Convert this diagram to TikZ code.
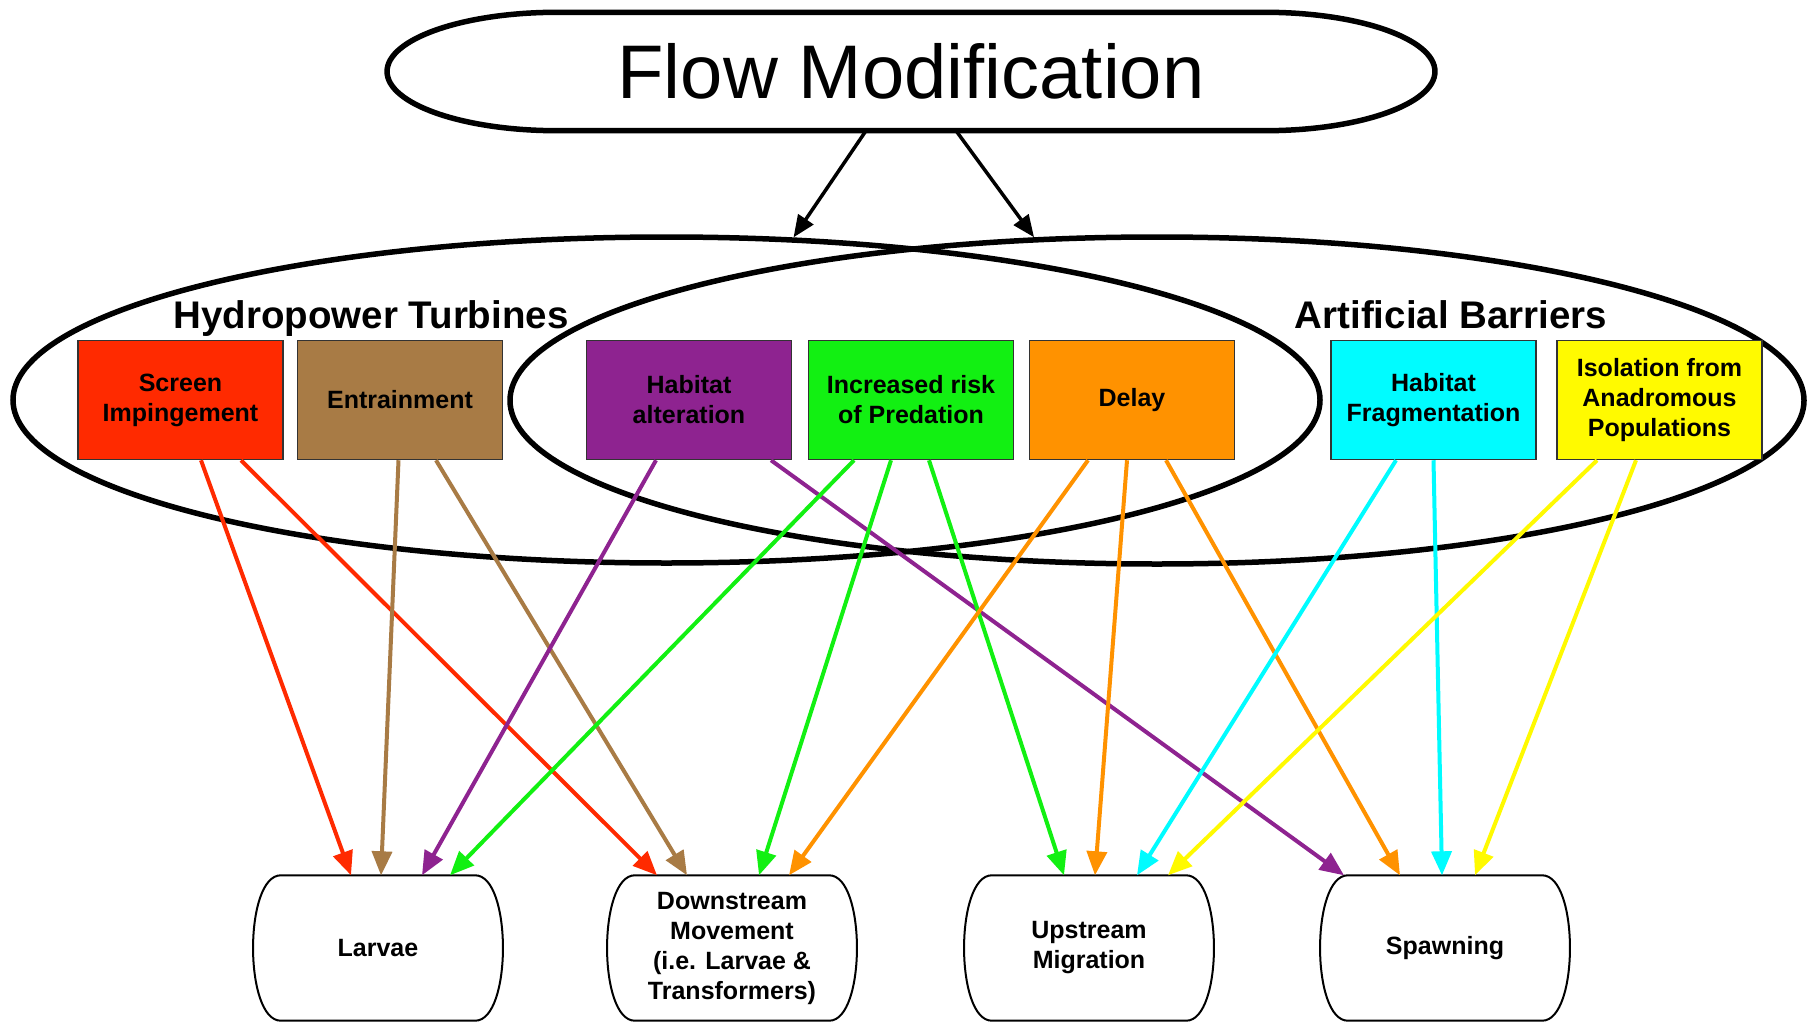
\documentclass[tikz,border=0pt]{standalone}
\usepackage{fontspec}
\setmainfont{Liberation Sans}
\usetikzlibrary{arrows.meta,shapes.geometric}
\definecolor{cred}{HTML}{FF2A00}
\definecolor{cbrown}{HTML}{A87B45}
\definecolor{cpurple}{HTML}{8E2390}
\definecolor{cgreen}{HTML}{12F012}
\definecolor{corange}{HTML}{FF9200}
\definecolor{ccyan}{HTML}{00FCFF}
\definecolor{cyellow}{HTML}{FFFA00}
\begin{document}
\begin{tikzpicture}[x=1pt,y=-1pt,
  bigell/.style={ellipse,draw=black,line width=5.5pt,inner sep=0pt},
  grp/.style={font=\fontsize{38.5}{44}\selectfont\bfseries,inner sep=0pt},
  box/.style={draw=black!80,line width=1.5pt,minimum width=205pt,minimum height=119pt,inner sep=0pt,align=center,font=\fontsize{25}{30}\selectfont\bfseries,text=black},
  outcome/.style={minimum width=250pt,minimum height=145pt,inner sep=0pt,align=center,font=\fontsize{25}{30}\selectfont\bfseries},
  lnk/.style={line width=4pt,-{Triangle[length=24pt,width=20pt]}},
  topar/.style={line width=3.5pt,-{Triangle[length=22pt,width=18pt]}}
]
\fill[white] (0,0) rectangle (1809,1022);
\useasboundingbox (0,0) rectangle (1809,1022);

% Flow Modification
\node[minimum width=1047.5pt,minimum height=118pt,inner sep=0pt,font=\fontsize{76}{90}\selectfont] (fm) at (911,71.5) {Flow Modification};
\draw[line width=5.5pt] ([xshift=170pt]fm.north west) -- ([xshift=-170pt]fm.north east)
  .. controls ([xshift=-76pt]fm.north east) and ([yshift=32.6pt]fm.east) .. (fm.east)
  .. controls ([yshift=-32.6pt]fm.east) and ([xshift=-76pt]fm.south east) .. ([xshift=-170pt]fm.south east)
  -- ([xshift=170pt]fm.south west)
  .. controls ([xshift=76pt]fm.south west) and ([yshift=-32.6pt]fm.west) .. (fm.west)
  .. controls ([yshift=32.6pt]fm.west) and ([xshift=76pt]fm.north west) .. cycle;

% group ellipses
\node[bigell,minimum width=1307pt,minimum height=326pt] (ht) at (666.5,400) {};
\node[bigell,minimum width=1294pt,minimum height=327pt] (ab) at (1157,400.5) {};
\node[grp,anchor=base] (htl) at (371,328) {Hydropower Turbines};
\node[grp,anchor=base] (abl) at (1451,328) {Artificial Barriers};

\draw[topar] ([xshift=-45pt]fm.south) -- (ht.52.5);
\draw[topar] ([xshift=45pt]fm.south) -- (ab.127);

% impact boxes
\node[box,fill=cred] (scr) at (180.5,400) {Screen\\Impingement};
\node[box,fill=cbrown] (ent) at (400,400) {Entrainment};
\node[box,fill=cpurple] (hab) at (689,400) {Habitat\\alteration};
\node[box,fill=cgreen] (pred) at (911,400) {Increased risk\\of Predation};
\node[box,fill=corange] (del) at (1132,400) {Delay};
\node[box,fill=ccyan] (frag) at (1433.5,400) {Habitat\\Fragmentation};
\node[box,fill=cyellow] (iso) at (1659.5,400) {Isolation from\\Anadromous\\Populations};

% outcome nodes
\node[outcome] (larv) at (378,948) {Larvae};
\node[outcome] (down) at (732,948) {Downstream\\Movement\\(i.e. Larvae \&\\Transformers)};
\node[outcome] (up) at (1089,948) {Upstream\\Migration};
\node[outcome] (spawn) at (1445,948) {Spawning};
\foreach \n in {larv,down,up,spawn}{
  \draw[line width=2pt] ([xshift=28pt]\n.north west) -- ([xshift=-28pt]\n.north east)
    .. controls ([xshift=9pt]\n.north east) and ([xshift=9pt]\n.south east) .. ([xshift=-28pt]\n.south east)
    -- ([xshift=28pt]\n.south west)
    .. controls ([xshift=-9pt]\n.south west) and ([xshift=-9pt]\n.north west) .. cycle;
}

% connectors
\draw[lnk,cred] ([xshift=20.5pt]scr.south) -- ([xshift=-27pt]larv.north);
\draw[lnk,cred] ([xshift=60.5pt]scr.south) -- ([xshift=-75pt]down.north);
\draw[lnk,cbrown] ([xshift=-1.5pt]ent.south) -- ([xshift=3pt]larv.north);
\draw[lnk,cbrown] ([xshift=36pt]ent.south) -- ([xshift=-45pt]down.north);
\draw[lnk,cpurple] ([xshift=-33pt]hab.south) -- ([xshift=44pt]larv.north);
\draw[lnk,cpurple] ([xshift=82pt]hab.south) -- ([xshift=-101pt]spawn.north);
\draw[lnk,cgreen] ([xshift=-57pt]pred.south) -- ([xshift=72pt]larv.north);
\draw[lnk,cgreen] ([xshift=-20pt]pred.south) -- ([xshift=27pt]down.north);
\draw[lnk,cgreen] ([xshift=18pt]pred.south) -- ([xshift=-25pt]up.north);
\draw[lnk,corange] ([xshift=-44pt]del.south) -- ([xshift=57pt]down.north);
\draw[lnk,corange] ([xshift=-5pt]del.south) -- ([xshift=6pt]up.north);
\draw[lnk,corange] ([xshift=34pt]del.south) -- ([xshift=-45pt]spawn.north);
\draw[lnk,ccyan] ([xshift=-37.5pt]frag.south) -- ([xshift=48pt]up.north);
\draw[lnk,ccyan] ([xshift=0pt]frag.south) -- ([xshift=-3pt]spawn.north);
\draw[lnk,cyellow] ([xshift=-62.5pt]iso.south) -- ([xshift=79pt]up.north);
\draw[lnk,cyellow] ([xshift=-23.5pt]iso.south) -- ([xshift=30pt]spawn.north);
\end{tikzpicture}
\end{document}
